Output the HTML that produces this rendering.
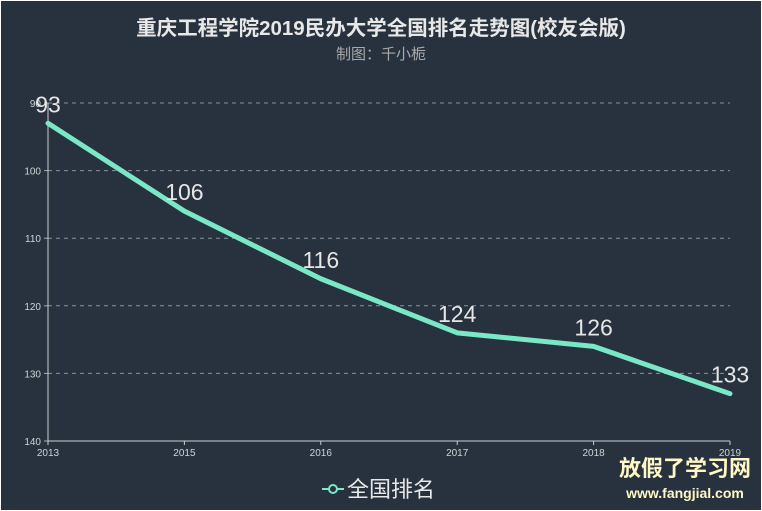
<!DOCTYPE html>
<html><head><meta charset="utf-8"><style>
body{margin:0;background:#fff}
svg{display:block;font-family:"Liberation Sans","Noto Sans CJK SC",sans-serif}
</style></head><body>
<svg width="762" height="511" id="c">
<rect x="1" y="1" width="760" height="509" fill="#27323e"/>
<text x="381" y="35" text-anchor="middle" fill="#e8e8e8" font-size="20.5" font-weight="bold">重庆工程学院2019民办大学全国排名走势图(校友会版)</text>
<text x="381" y="59" text-anchor="middle" fill="#aaaaaa" font-size="15">制图：千小栀</text>
<g id="grid"></g><g id="axes"></g><g id="series"></g>
<g>
<line x1="322" y1="489" x2="344" y2="489" stroke="#7ae8c6" stroke-width="2"/>
<circle cx="333" cy="489" r="4" fill="#27323e" stroke="#7ae8c6" stroke-width="2"/>
<text x="347" y="497" fill="#e8e8e8" font-size="22">全国排名</text>
</g>
<text x="685" y="476" text-anchor="middle" fill="#fff8c6" font-size="22" font-weight="bold">放假了学习网</text>
<text x="685" y="498" text-anchor="middle" fill="#fff8c6" font-size="14" font-weight="bold">www.fangjial.com</text>
</svg>
<script>
const categories=["2013","2015","2016","2017","2018","2019"];
const ranks=[93,106,116,124,126,133];
const yTicks=[90,100,110,120,130,140];
const NS="http://www.w3.org/2000/svg";
const X0=48,X1=730,Y0=103,Y1=441,ymin=90,ymax=140;
function xs(i){return X0+(X1-X0)*i/(categories.length-1);}
function ys(v){return Y0+(v-ymin)/(ymax-ymin)*(Y1-Y0);}
function mk(tag,attrs,parent,txt){const e=document.createElementNS(NS,tag);for(const k in attrs)e.setAttribute(k,attrs[k]);if(txt!==undefined)e.textContent=txt;document.getElementById(parent).appendChild(e);return e;}
yTicks.forEach(t=>{
 const y=ys(t);
 if(t!==ymax){const g=mk('line',{x1:X0,x2:X1,y1:y,y2:y,stroke:'#8a939c','stroke-dasharray':'4,4'},'grid');
 
 }
 const l=mk('text',{x:X0-7,y:y+4,'text-anchor':'end',fill:'#cfd3d6','font-size':10},'axes',t);
 
 
 mk('line',{x1:X0-4,x2:X0,y1:y,y2:y,stroke:'#aab'},'axes');
});
const ya=mk('line',{x1:X0,x2:X0,y1:Y0,y2:Y1,stroke:'#c8cdd2'},'axes');


const xa=mk('line',{x1:X0,x2:X1,y1:Y1,y2:Y1,stroke:'#c8cdd2'},'axes');


categories.forEach((c,i)=>{
 const x=xs(i);
 mk('line',{x1:x,x2:x,y1:Y1,y2:Y1+4,stroke:'#c8cdd2'},'axes');
 const t=mk('text',{x:x,y:Y1+15,'text-anchor':'middle',fill:'#cfd3d6','font-size':10},'axes',c);
 
 
});
const pts=ranks.map((v,i)=>xs(i)+','+ys(v)).join(' ');
const pl=mk('polyline',{points:pts,fill:'none',stroke:'#7ae8c6','stroke-width':5,'stroke-linejoin':'round','stroke-linecap':'round'},'series');


ranks.forEach((v,i)=>{
 const t=mk('text',{x:xs(i),y:ys(v)-11,'text-anchor':'middle',fill:'#e6e6e6','font-size':23},'series',v);
 
 
});
</script>
</body></html>
